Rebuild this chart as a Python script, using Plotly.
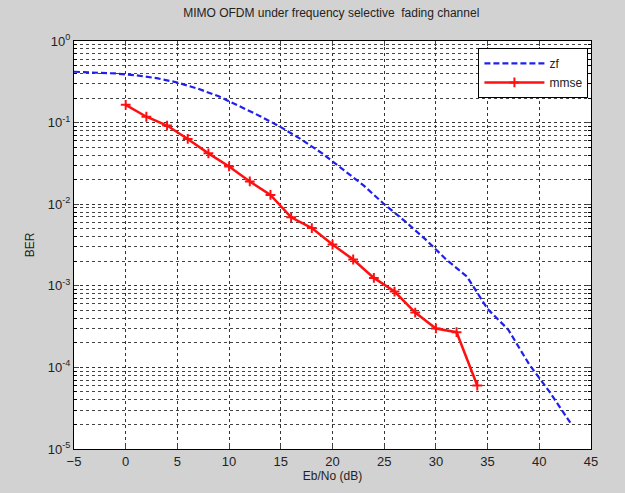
import plotly.graph_objects as go

# Data
zf_x = [-5, -3, -1, 1, 3, 5, 7, 9, 11, 13, 15, 17, 19, 21, 23, 25, 27, 29, 31, 33, 35, 37, 39, 41, 43]
zf_ber = [0.42, 0.41, 0.40, 0.38, 0.35, 0.31, 0.26, 0.21, 0.16, 0.12, 0.088, 0.062, 0.042,
          0.027, 0.017, 0.010, 0.0062, 0.0037, 0.0021, 0.0013, 0.00052, 0.00029, 0.00011,
          0.00005, 0.000021]
mmse_x = [0, 2, 4, 6, 8, 10, 12, 14, 16, 18, 20, 22, 24, 26, 28, 30, 32, 34]
mmse_ber = [0.165, 0.118, 0.092, 0.063, 0.042, 0.029, 0.019, 0.013, 0.0069, 0.0051, 0.0032,
            0.0021, 0.00125, 0.00085, 0.00047, 0.0003, 0.00027, 0.00006]
x_ticks = [-5, 0, 5, 10, 15, 20, 25, 30, 35, 40, 45]
y_tickvals = [1, 0.1, 0.01, 0.001, 0.0001, 0.00001]
y_ticktext = ["10<sup>0</sup>", "10<sup>-1</sup>", "10<sup>-2</sup>", "10<sup>-3</sup>",
              "10<sup>-4</sup>", "10<sup>-5</sup>"]

fig = go.Figure()
fig.add_trace(go.Scatter(x=zf_x, y=zf_ber, mode="lines", name="zf",
                         line=dict(color="#2020ee", width=2.2, dash="6px,3px")))
fig.add_trace(go.Scatter(x=mmse_x, y=mmse_ber, mode="lines+markers", name="mmse",
                         line=dict(color="#ff1010", width=2.5),
                         marker=dict(symbol="cross-thin", size=7,
                                     line=dict(color="#ff1010", width=2))))

font = "Liberation Sans, Arial, sans-serif"
grid_dash = "3px,3px"
fig.update_layout(
    width=625, height=493,
    margin=dict(l=74, r=34, t=41, b=44),
    paper_bgcolor="#d2d2d2",
    plot_bgcolor="#ffffff",
    font=dict(family=font, size=12, color="#222222"),
    title=dict(text="MIMO OFDM under frequency selective  fading channel",
               x=0.53, xanchor="center", y=0.975, yanchor="middle",
               font=dict(size=12, color="#222222")),
    showlegend=True,
    legend=dict(x=0.995, y=0.983, xanchor="right", yanchor="top",
                bgcolor="#ffffff", bordercolor="#000000", borderwidth=1,
                font=dict(size=12), itemwidth=60, tracegroupgap=2),
)
fig.update_xaxes(
    range=[-5, 45], tickvals=x_ticks, ticks="inside", ticklen=5,
    showline=True, linecolor="#000000", linewidth=1, mirror="ticks",
    showgrid=True, gridcolor="#333333", griddash=grid_dash, gridwidth=1,
    zeroline=False, tickfont=dict(size=13),
    title=dict(text="Eb/No (dB)", standoff=4, font=dict(size=12)),
)
fig.update_yaxes(
    type="log", range=[-5, 0], tickvals=y_tickvals, ticktext=y_ticktext,
    ticks="inside", ticklen=5, tickfont=dict(size=13),
    showline=True, linecolor="#000000", linewidth=1, mirror="ticks",
    showgrid=True, gridcolor="#333333", griddash=grid_dash, gridwidth=1,
    minor=dict(dtick="D1", showgrid=True, gridcolor="#444444", griddash=grid_dash,
               ticks="inside", ticklen=3, tickcolor="#000000"),
    title=dict(text="BER", standoff=10, font=dict(size=12)),
)

fig.write_html("out.html")
